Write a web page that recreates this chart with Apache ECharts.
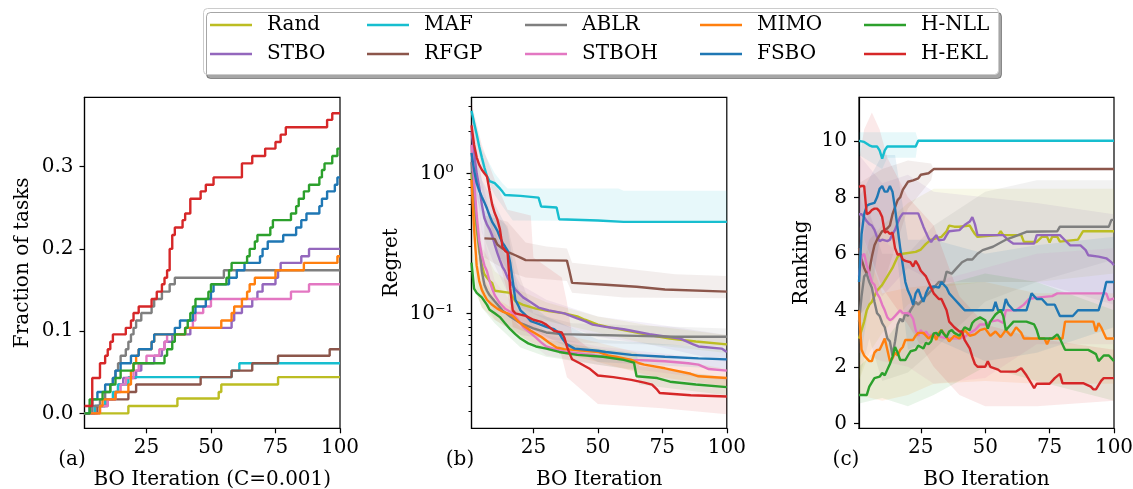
<!DOCTYPE html>
<html><head><meta charset="utf-8">
<script src="https://cdn.jsdelivr.net/npm/echarts@6/dist/echarts.min.js"></script>
<style>html,body{margin:0;padding:0;background:#fff}#c{width:1133px;height:489px}</style>
</head><body><div id="c"></div><script>
// ---------------- labels / ticks ----------------
const methods = ['Rand','STBO','MAF','RFGP','ABLR','STBOH','MIMO','FSBO','H-NLL','H-EKL'];
const colors  = ['#bcbd22','#9467bd','#17becf','#8c564b','#7f7f7f','#e377c2','#ff7f0e','#1f77b4','#2ca02c','#d62728'];
const xTicks = [25,50,75,100];
const fracTicks = [0,0.1,0.2,0.3];
const regretMajor = [0.1,1];
const regretMinor = [0.02,0.03,0.04,0.05,0.06,0.07,0.08,0.09,0.2,0.3,0.4,0.5,0.6,0.7,0.8,0.9,2,3];
const rankTicks = [0,2,4,6,8,10];

// ---------------- (a) fraction of tasks (step change points) ----------------
const a_Rand  = [[1,0],[18,0.009],[37,0.018],[53,0.026],[54,0.035],[76,0.044],[100,0.044]];
const a_STBO  = [[1,0],[5,0.009],[9,0.017],[13,0.026],[14,0.035],[16,0.043],[21,0.052],[23,0.061],[28,0.07],[31,0.078],[32,0.087],[35,0.096],[42,0.104],[58,0.113],[59,0.122],[62,0.13],[66,0.139],[68,0.148],[70,0.157],[75,0.165],[76,0.174],[77,0.183],[85,0.191],[88,0.2],[100,0.2]];
const a_MAF   = [[1,0],[5,0.009],[9,0.017],[12,0.026],[14,0.035],[18,0.044],[58,0.052],[61,0.061],[100,0.061]];
const a_RFGP  = [[1,0],[6,0.009],[10,0.017],[18,0.026],[21,0.035],[46,0.044],[58,0.052],[66,0.061],[76,0.07],[96,0.078],[100,0.078]];
const a_ABLR  = [[1,0],[4,0.009],[7,0.017],[9,0.026],[11,0.035],[12,0.043],[13,0.052],[14,0.061],[15,0.07],[17,0.078],[18,0.087],[19,0.096],[20,0.104],[21,0.113],[23,0.122],[27,0.13],[28,0.139],[31,0.148],[34,0.157],[36,0.165],[55,0.174],[100,0.174]];
const a_STBOH = [[1,0],[7,0.009],[10,0.017],[13,0.026],[15,0.035],[17,0.043],[20,0.052],[22,0.061],[25,0.07],[30,0.078],[32,0.087],[33,0.096],[40,0.104],[43,0.113],[44,0.122],[47,0.13],[50,0.139],[81,0.148],[88,0.157],[100,0.157]];
const a_MIMO  = [[1,0],[7,0.009],[8,0.017],[13,0.026],[18,0.035],[19,0.052],[20,0.061],[21,0.07],[22,0.078],[27,0.087],[28,0.096],[40,0.104],[54,0.113],[58,0.122],[59,0.13],[62,0.139],[64,0.148],[65,0.157],[67,0.165],[75,0.174],[86,0.183],[99,0.191],[100,0.191]];
const a_FSBO  = [[1,0],[3,0.009],[4,0.017],[6,0.026],[9,0.035],[12,0.043],[13,0.052],[15,0.061],[19,0.07],[22,0.078],[27,0.087],[28,0.096],[36,0.104],[38,0.113],[43,0.122],[44,0.13],[48,0.139],[50,0.148],[51,0.157],[57,0.165],[60,0.174],[63,0.183],[69,0.191],[70,0.2],[72,0.209],[78,0.217],[83,0.226],[85,0.235],[87,0.243],[92,0.252],[93,0.261],[95,0.27],[98,0.278],[99,0.287],[100,0.287]];
const a_HNLL  = [[1,0],[3,0.017],[8,0.026],[11,0.035],[13,0.043],[15,0.052],[20,0.061],[32,0.07],[33,0.078],[35,0.087],[36,0.096],[40,0.104],[41,0.113],[42,0.122],[43,0.13],[44,0.139],[49,0.148],[50,0.157],[56,0.165],[57,0.174],[58,0.183],[64,0.191],[65,0.2],[67,0.209],[68,0.217],[73,0.226],[74,0.235],[81,0.243],[83,0.252],[84,0.261],[86,0.27],[88,0.278],[92,0.287],[93,0.296],[94,0.304],[97,0.313],[99,0.322],[100,0.322]];
const a_HEKL  = [[1,0.009],[4,0.043],[7,0.061],[9,0.07],[10,0.078],[11,0.087],[12,0.096],[17,0.104],[19,0.113],[20,0.122],[22,0.13],[27,0.139],[29,0.148],[31,0.157],[32,0.165],[33,0.174],[34,0.2],[35,0.217],[36,0.226],[39,0.235],[40,0.243],[42,0.261],[46,0.27],[48,0.278],[51,0.287],[62,0.304],[66,0.313],[71,0.322],[75,0.33],[77,0.339],[79,0.348],[95,0.357],[97,0.365],[100,0.365]];

// ---------------- (b) regret ----------------
const b_Rand  = [[1,1.0],[2,0.6],[3,0.4],[4,0.28],[5,0.22],[6,0.19],[8,0.17],[9,0.165],[10,0.145],[16,0.14],[18,0.122],[21,0.115],[26,0.108],[31,0.104],[37,0.1],[42,0.095],[45,0.09],[50,0.083],[55,0.079],[60,0.076],[65,0.073],[70,0.07],[78,0.066],[88,0.063],[100,0.06]];
const b_STBO  = [[1,2.0],[2,1.4],[3,1.0],[4,0.8],[5,0.6],[6,0.48],[7,0.43],[8,0.4],[9,0.36],[10,0.31],[11,0.27],[12,0.24],[13,0.215],[14,0.2],[15,0.18],[16,0.168],[18,0.148],[21,0.13],[24,0.12],[27,0.11],[31,0.105],[37,0.1],[42,0.092],[45,0.088],[48,0.083],[53,0.08],[60,0.077],[70,0.071],[82,0.066],[87,0.06],[89,0.058],[98,0.056],[100,0.053]];
const b_MAF   = [[1,2.8],[2,2.3],[3,1.9],[4,1.55],[5,1.3],[6,1.1],[7,0.95],[8,0.88],[10,0.85],[12,0.78],[13,0.74],[14,0.7],[20,0.69],[27,0.67],[28,0.58],[34,0.57],[35,0.47],[50,0.46],[60,0.45],[100,0.45]];
const b_RFGP  = [[6,0.343],[10,0.34],[11,0.31],[13,0.29],[15,0.275],[18,0.26],[20,0.25],[22,0.24],[38,0.238],[39,0.2],[40,0.165],[53,0.16],[65,0.155],[76,0.148],[100,0.143]];
const b_ABLR  = [[1,1.2],[2,0.75],[3,0.45],[4,0.3],[5,0.2],[6,0.16],[7,0.145],[8,0.135],[10,0.122],[13,0.105],[16,0.095],[20,0.085],[25,0.078],[30,0.073],[36,0.071],[50,0.07],[65,0.069],[80,0.068],[100,0.068]];
const b_STBOH = [[1,1.6],[2,0.9],[3,0.5],[4,0.33],[5,0.26],[6,0.22],[7,0.2],[8,0.17],[9,0.15],[10,0.135],[12,0.118],[14,0.108],[17,0.1],[19,0.09],[21,0.08],[24,0.072],[26,0.067],[28,0.062],[30,0.058],[34,0.055],[38,0.053],[45,0.051],[53,0.049],[63,0.0465],[70,0.046],[76,0.0455],[85,0.044],[89,0.043],[93,0.04],[100,0.039]];
const b_MIMO  = [[1,0.9],[2,0.4],[3,0.22],[4,0.17],[5,0.147],[6,0.135],[7,0.125],[9,0.115],[11,0.108],[13,0.103],[15,0.1],[17,0.096],[19,0.088],[21,0.082],[24,0.075],[28,0.068],[31,0.062],[34,0.057],[37,0.0555],[45,0.054],[50,0.053],[54,0.05],[57,0.049],[63,0.0465],[66,0.044],[68,0.043],[76,0.0405],[86,0.037],[89,0.0355],[100,0.0345]];
const b_FSBO  = [[1,1.4],[2,1.05],[3,0.85],[4,0.75],[5,0.68],[6,0.62],[7,0.56],[8,0.5],[9,0.45],[10,0.42],[11,0.39],[12,0.35],[13,0.32],[14,0.3],[15,0.28],[16,0.23],[17,0.17],[18,0.125],[19,0.115],[20,0.105],[22,0.097],[24,0.088],[27,0.084],[30,0.08],[33,0.077],[35,0.072],[36,0.067],[38,0.06],[41,0.056],[50,0.054],[53,0.053],[63,0.0505],[76,0.049],[89,0.0477],[100,0.0469]];
const b_HNLL  = [[1,0.23],[2,0.15],[3,0.14],[5,0.13],[7,0.115],[8,0.106],[10,0.1],[12,0.094],[14,0.085],[16,0.077],[18,0.071],[20,0.066],[23,0.061],[26,0.058],[30,0.056],[35,0.053],[42,0.0505],[52,0.049],[60,0.0465],[64,0.0445],[65,0.0355],[73,0.0345],[78,0.0325],[88,0.031],[100,0.0297]];
const b_HEKL  = [[1,2.2],[2,1.6],[3,1.3],[4,1.15],[5,1.06],[6,1.0],[7,0.95],[8,0.75],[9,0.6],[10,0.52],[11,0.47],[12,0.4],[13,0.3],[14,0.28],[15,0.27],[16,0.15],[17,0.105],[18,0.1],[22,0.096],[25,0.09],[28,0.087],[30,0.083],[33,0.075],[36,0.073],[37,0.067],[38,0.058],[39,0.052],[40,0.047],[43,0.044],[47,0.04],[50,0.036],[56,0.035],[63,0.0335],[68,0.032],[71,0.031],[73,0.0285],[74,0.027],[86,0.026],[100,0.0255]];

// (b) shaded bands: upper / lower edges
const bHi_Rand  = [[1,1.6],[5,0.3],[10,0.2],[20,0.145],[30,0.12],[50,0.095],[70,0.082],[100,0.07]];
const bLo_Rand  = [[1,0.6],[5,0.16],[10,0.11],[20,0.095],[30,0.088],[50,0.073],[70,0.06],[100,0.052]];
const bHi_STBO  = [[1,2.8],[5,0.9],[10,0.38],[15,0.24],[20,0.16],[30,0.125],[50,0.095],[70,0.085],[100,0.07]];
const bLo_STBO  = [[1,1.4],[5,0.38],[10,0.22],[15,0.14],[20,0.11],[30,0.09],[50,0.068],[70,0.06],[100,0.045]];
const bHi_MAF   = [[1,3.0],[5,1.5],[10,1.0],[13,0.85],[15,0.78],[58,0.78],[60,0.75],[100,0.75]];
const bLo_MAF   = [[1,2.4],[5,1.1],[10,0.7],[14,0.55],[17,0.46],[100,0.45]];
const bHi_RFGP  = [[6,0.5],[15,0.45],[22,0.32],[30,0.3],[38,0.29],[40,0.23],[60,0.21],[80,0.19],[100,0.185]];
const bLo_RFGP  = [[6,0.25],[15,0.2],[22,0.18],[38,0.17],[40,0.14],[60,0.13],[100,0.128]];
const bHi_ABLR  = [[1,2.5],[3,0.8],[5,0.55],[10,0.5],[15,0.42],[19,0.2],[25,0.1],[40,0.085],[100,0.078]];
const bLo_ABLR  = [[1,0.9],[3,0.25],[5,0.13],[10,0.09],[20,0.07],[40,0.062],[100,0.058]];
const bHi_STBOH = [[1,2.4],[5,0.4],[10,0.17],[20,0.1],[30,0.07],[50,0.058],[100,0.046]];
const bLo_STBOH = [[1,1.0],[5,0.17],[10,0.1],[20,0.07],[30,0.05],[50,0.043],[100,0.033]];
const bHi_MIMO  = [[1,1.4],[3,0.35],[5,0.19],[10,0.13],[20,0.1],[30,0.075],[50,0.062],[70,0.05],[100,0.04]];
const bLo_MIMO  = [[1,0.55],[3,0.14],[5,0.11],[10,0.09],[20,0.068],[30,0.055],[50,0.045],[70,0.036],[100,0.03]];
const bHi_FSBO  = [[1,2.0],[5,0.9],[10,0.6],[15,0.4],[18,0.18],[20,0.13],[30,0.095],[50,0.065],[100,0.056]];
const bLo_FSBO  = [[1,0.9],[5,0.5],[10,0.3],[15,0.2],[18,0.09],[20,0.085],[30,0.068],[50,0.045],[100,0.04]];
const bHi_HNLL  = [[1,0.3],[5,0.16],[10,0.12],[20,0.08],[30,0.065],[50,0.056],[65,0.052],[66,0.042],[100,0.035]];
const bLo_HNLL  = [[1,0.17],[5,0.11],[10,0.085],[20,0.057],[30,0.049],[50,0.043],[65,0.039],[66,0.031],[100,0.026]];
const bHi_HEKL  = [[1,3.2],[5,1.6],[10,0.9],[15,0.55],[24,0.5],[25,0.25],[36,0.18],[38,0.12],[40,0.07],[50,0.05],[75,0.04],[100,0.034]];
const bLo_HEKL  = [[1,1.5],[5,0.75],[10,0.32],[15,0.14],[17,0.08],[25,0.07],[35,0.058],[38,0.035],[50,0.0225],[75,0.021],[100,0.019]];

// ---------------- (c) ranking ----------------
const c_Rand  = [[1,3.0],[2,3.3],[3,3.6],[4,4.0],[5,4.2],[6,4.3],[7,4.5],[8,4.7],[9,4.8],[10,4.9],[12,5.2],[14,5.5],[15,5.7],[16,5.9],[18,6.0],[23,6.07],[25,6.15],[27,6.35],[29,6.5],[31,6.55],[33,6.6],[35,6.8],[36,7.0],[38,6.96],[40,6.96],[44,7.0],[45,6.84],[46,6.7],[47,6.6],[55,6.66],[56,6.8],[57,6.66],[64,6.66],[65,6.42],[70,6.42],[72,6.6],[74,6.6],[75,6.4],[76,6.6],[78,6.6],[79,6.43],[86,6.5],[88,6.8],[100,6.8]];
const c_STBO  = [[1,7.4],[2,7.4],[3,7.3],[4,7.15],[5,7.05],[6,7.0],[7,6.85],[8,6.6],[9,6.45],[10,6.5],[12,6.45],[13,6.5],[14,6.7],[15,6.85],[16,7.1],[17,7.3],[18,7.43],[24,7.43],[25,7.2],[26,6.96],[27,6.75],[28,6.55],[29,6.42],[30,6.55],[31,6.66],[32,6.48],[34,6.5],[35,6.66],[36,6.8],[40,6.84],[42,7.02],[44,7.14],[45,7.3],[46,7.05],[47,6.66],[57,6.66],[59,6.48],[61,6.36],[69,6.36],[70,6.66],[79,6.66],[81,6.48],[83,6.3],[87,6.3],[89,6.13],[90,5.95],[94,5.9],[97,5.84],[99,5.7],[100,5.6]];
const c_MAF   = [[1,10],[3,9.96],[5,9.84],[6,9.8],[8,9.8],[9,9.66],[10,9.37],[11,9.66],[12,9.8],[23,9.8],[24,10],[100,10]];
const c_RFGP  = [[1,6.2],[2,5.8],[3,5.5],[4,5.3],[5,5.4],[6,5.9],[7,6.3],[8,6.5],[10,6.8],[12,6.9],[13,7.0],[14,7.4],[16,7.9],[17,8.0],[18,8.26],[20,8.55],[22,8.6],[24,8.67],[25,8.8],[28,8.85],[30,9.0],[100,9.0]];
const c_ABLR  = [[1,3.6],[2,4.5],[3,5.2],[4,5.3],[5,5.0],[6,4.8],[7,4.3],[8,3.9],[9,3.8],[10,3.55],[11,3.4],[12,3.0],[13,2.9],[14,2.4],[15,2.9],[16,3.5],[17,3.7],[18,3.6],[19,3.9],[20,3.8],[21,4.0],[23,4.3],[24,4.2],[26,4.4],[28,4.6],[30,4.8],[32,5.0],[34,5.0],[35,5.37],[37,5.3],[39,5.5],[41,5.7],[43,5.8],[45,5.8],[47,6.0],[49,6.13],[53,6.25],[56,6.4],[58,6.5],[61,6.6],[66,6.78],[78,6.8],[79,6.96],[98,6.96],[99,7.2],[100,7.2]];
const c_STBOH = [[1,5.2],[2,5.9],[3,6.0],[4,5.6],[5,5.3],[6,5.0],[7,4.9],[8,4.6],[9,4.45],[10,4.2],[11,4.0],[12,3.75],[13,3.65],[14,3.7],[15,3.8],[16,3.9],[17,4.0],[18,3.9],[20,3.9],[21,3.85],[22,3.7],[23,3.3],[24,3.1],[25,3.3],[26,3.15],[27,3.25],[28,3.1],[30,3.15],[33,3.05],[36,3.0],[40,3.0],[42,3.05],[44,3.2],[46,3.3],[48,3.5],[50,3.5],[52,3.6],[55,3.65],[57,3.55],[58,4.0],[62,4.0],[65,4.2],[67,4.4],[70,4.45],[76,4.5],[78,4.6],[97,4.6],[98,4.36],[100,4.42]];
const c_MIMO  = [[1,4.0],[2,2.6],[3,2.4],[4,2.3],[5,2.2],[6,2.2],[7,2.5],[8,2.6],[9,2.6],[10,2.8],[11,3.0],[12,2.6],[13,2.2],[14,2.3],[15,2.5],[16,2.4],[17,2.6],[18,2.7],[19,2.95],[22,2.95],[23,3.1],[24,3.2],[26,3.2],[28,3.0],[30,3.15],[31,2.95],[32,3.2],[33,3.3],[35,3.05],[36,2.9],[38,3.1],[40,3.0],[42,3.3],[44,3.1],[46,3.15],[48,3.3],[50,3.35],[52,3.1],[54,3.25],[56,3.05],[58,3.3],[60,3.1],[62,3.4],[64,3.2],[65,3.0],[73,3.0],[74,2.8],[75,3.0],[80,3.0],[81,3.6],[92,3.6],[93,3.25],[94,3.55],[95,3.4],[97,3.0],[100,3.0]];
const c_FSBO  = [[1,5.0],[2,6.7],[3,7.4],[4,7.7],[5,7.75],[7,7.8],[8,8.0],[9,8.3],[10,8.4],[11,8.2],[12,8.2],[13,8.4],[14,8.2],[15,7.6],[16,6.9],[17,6.2],[18,5.6],[19,5.0],[20,4.7],[21,4.5],[22,4.2],[23,4.6],[24,4.75],[25,4.5],[26,4.3],[27,4.6],[28,4.8],[30,4.85],[32,4.8],[33,5.0],[35,4.8],[36,4.6],[38,4.4],[40,4.2],[42,4.0],[53,4.0],[54,4.3],[55,4.0],[57,4.0],[58,4.4],[59,4.2],[61,4.0],[66,4.0],[68,4.6],[70,4.4],[72,4.4],[74,4.2],[77,4.2],[79,3.8],[84,3.8],[86,4.0],[94,4.0],[96,4.6],[97,5.0],[100,5.0]];
const c_HNLL  = [[1,1.0],[4,1.0],[5,1.3],[6,1.45],[7,1.6],[9,1.65],[10,1.78],[11,1.7],[12,1.9],[13,2.1],[14,2.35],[15,2.7],[16,2.5],[17,2.24],[19,2.24],[20,2.4],[21,2.55],[23,2.6],[24,2.75],[25,2.7],[26,2.65],[27,2.85],[28,2.8],[29,2.9],[30,3.18],[31,3.2],[32,3.1],[33,3.3],[34,3.15],[35,3.05],[36,3.25],[37,3.3],[38,3.2],[40,3.1],[42,3.4],[44,3.3],[45,3.55],[46,3.65],[48,3.75],[50,3.65],[51,3.35],[52,3.6],[54,3.85],[56,4.0],[57,3.8],[58,3.3],[59,3.4],[61,3.6],[66,3.6],[69,3.5],[70,3.3],[71,3.0],[76,3.0],[78,3.15],[79,3.0],[80,2.8],[81,2.6],[90,2.6],[92,2.5],[93,2.45],[94,2.2],[96,2.4],[98,2.4],[100,2.2]];
const c_HEKL  = [[1,8.37],[2,8.4],[3,8.4],[4,7.4],[5,7.45],[6,7.55],[7,7.6],[8,7.6],[9,7.5],[10,7.3],[11,6.75],[12,6.8],[13,6.7],[14,6.75],[15,6.2],[16,5.96],[17,6.0],[18,5.8],[19,5.75],[21,5.7],[22,5.55],[23,5.75],[24,5.6],[25,5.4],[27,5.2],[28,5.0],[29,4.8],[30,4.6],[32,4.4],[33,4.4],[35,4.0],[36,3.6],[38,3.4],[40,3.25],[41,3.25],[42,2.95],[44,2.65],[45,2.35],[46,2.1],[47,2.0],[50,2.0],[51,2.2],[52,2.0],[55,1.9],[56,1.83],[62,1.83],[64,1.95],[66,1.7],[68,1.4],[69,1.24],[70,1.4],[75,1.4],[77,1.6],[79,1.75],[80,1.42],[88,1.42],[91,1.3],[92,1.2],[93,1.2],[94,1.35],[95,1.5],[96,1.6],[100,1.6]];

// (c) shaded bands: upper / lower edges
const cHi_Rand  = [[1,5],[5,6.5],[10,7],[20,7.8],[30,8.3],[50,8.3],[70,8.3],[100,8.3]];
const cLo_Rand  = [[1,1.5],[5,2.5],[10,3.2],[20,4.2],[30,4.8],[50,5],[70,5.0],[100,5.3]];
const cHi_STBO  = [[1,9.5],[10,8.5],[20,8.8],[30,8.2],[50,8],[70,7.8],[100,7.4]];
const cLo_STBO  = [[1,5.5],[10,4.5],[20,5.5],[30,5],[50,5],[70,5],[100,4.2]];
const cHi_MAF   = [[1,10.3],[23,10.3],[24,10],[100,10]];
const cLo_MAF   = [[1,9.5],[10,9.0],[12,9.4],[23,9.4],[24,10],[100,10]];
const cHi_RFGP  = [[1,8.5],[10,9.0],[20,9.3],[29,9.2],[30,9],[100,9]];
const cLo_RFGP  = [[1,3.8],[10,4.8],[20,7.6],[29,8.6],[30,9],[100,9]];
const cHi_ABLR  = [[1,6],[5,7.5],[10,6],[20,6],[30,7],[50,8.2],[70,8.6],[100,8.6]];
const cLo_ABLR  = [[1,1.5],[5,3],[10,1.5],[20,1.8],[30,2.6],[50,4.3],[70,5],[100,5.8]];
const cHi_STBOH = [[1,8],[10,6.5],[20,5.8],[30,5.0],[50,5.5],[70,6],[100,6.2]];
const cLo_STBOH = [[1,2.5],[10,2.2],[20,2.0],[30,1.4],[50,1.6],[70,2.8],[100,2.8]];
const cHi_MIMO  = [[1,7],[10,4.6],[20,4.8],[30,4.9],[50,5.0],[70,4.6],[100,4.6]];
const cLo_MIMO  = [[1,1],[10,0.8],[20,1.0],[30,1.4],[50,1.5],[70,1.4],[100,1.4]];
const cHi_FSBO  = [[1,8],[10,9.5],[15,9.5],[20,6.5],[30,6.5],[50,6],[70,6.3],[100,6.6]];
const cLo_FSBO  = [[1,2],[10,7],[15,6.5],[20,2.6],[30,3],[50,2.2],[70,2.5],[100,3.4]];
const cHi_HNLL  = [[1,2],[10,2.8],[20,4],[30,4.8],[50,5.3],[70,5],[100,4.0]];
const cLo_HNLL  = [[1,0.7],[10,0.9],[20,0.6],[30,1],[50,2],[70,1.5],[100,0.8]];
const cHi_HEKL  = [[1,9.3],[3,10.4],[6,11],[9,10.4],[12,9.4],[20,8],[30,7],[40,4.5],[50,3.5],[70,3],[100,2.6]];
const cLo_HEKL  = [[1,7.2],[3,6.5],[6,5.8],[10,4.8],[20,3.5],[30,2],[40,1],[50,0.6],[70,0.6],[100,0.8]];

// ---------------- assembly ----------------
const A = [a_Rand,a_STBO,a_MAF,a_RFGP,a_ABLR,a_STBOH,a_MIMO,a_FSBO,a_HNLL,a_HEKL];
const B = [b_Rand,b_STBO,b_MAF,b_RFGP,b_ABLR,b_STBOH,b_MIMO,b_FSBO,b_HNLL,b_HEKL];
const C = [c_Rand,c_STBO,c_MAF,c_RFGP,c_ABLR,c_STBOH,c_MIMO,c_FSBO,c_HNLL,c_HEKL];
const BH = [bHi_Rand,bHi_STBO,bHi_MAF,bHi_RFGP,bHi_ABLR,bHi_STBOH,bHi_MIMO,bHi_FSBO,bHi_HNLL,bHi_HEKL];
const BL = [bLo_Rand,bLo_STBO,bLo_MAF,bLo_RFGP,bLo_ABLR,bLo_STBOH,bLo_MIMO,bLo_FSBO,bLo_HNLL,bLo_HEKL];
const CH = [cHi_Rand,cHi_STBO,cHi_MAF,cHi_RFGP,cHi_ABLR,cHi_STBOH,cHi_MIMO,cHi_FSBO,cHi_HNLL,cHi_HEKL];
const CL = [cLo_Rand,cLo_STBO,cLo_MAF,cLo_RFGP,cLo_ABLR,cLo_STBOH,cLo_MIMO,cLo_FSBO,cLo_HNLL,cLo_HEKL];

const FONT = 'DejaVu Serif';
const txt = {fontFamily: FONT, fontSize: 20, color: '#000'};
const BLACK = {color: '#000', width: 1.2};

function rgba(hex, a) {
  const n = parseInt(hex.slice(1), 16);
  return 'rgba(' + (n >> 16) + ',' + ((n >> 8) & 255) + ',' + (n & 255) + ',' + a + ')';
}
function band(xi, yi, hi, lo, color, a) {
  return {
    type: 'custom', xAxisIndex: xi, yAxisIndex: yi, silent: true, clip: true, z: 1,
    data: [[hi[0][0], hi[0][1]]],
    renderItem: function (params, api) {
      const pts = hi.map(p => api.coord(p)).concat(lo.slice().reverse().map(p => api.coord(p)));
      return {type: 'polygon', shape: {points: pts}, style: {fill: rgba(color, a)}};
    }
  };
}
function line(xi, yi, name, data, color, step) {
  return {
    type: 'line', name: name, xAxisIndex: xi, yAxisIndex: yi, data: data,
    step: step ? 'end' : false, symbol: 'none', showSymbol: false, z: 2,
    lineStyle: {color: color, width: 2.4}, itemStyle: {color: color},
    emphasis: {disabled: true}
  };
}

const series = [];
methods.forEach((m, i) => series.push(band(1, 1, BH[i], BL[i], colors[i], 0.1)));
methods.forEach((m, i) => series.push(band(2, 3, CH[i], CL[i], colors[i], 0.1)));
methods.forEach((m, i) => series.push(line(0, 0, m, A[i], colors[i], true)));
methods.forEach((m, i) => series.push(line(1, 1, m, B[i], colors[i], false)));
methods.forEach((m, i) => series.push(line(2, 3, m, C[i], colors[i], false)));

const grids = [
  {left: 84.5, top: 97.3, width: 255.5, height: 331},
  {left: 471.5, top: 97.3, width: 255.3, height: 331},
  {left: 859, top: 97.3, width: 255, height: 331}
].map(g => Object.assign(g, {show: true, borderColor: '#000', borderWidth: 1.2, backgroundColor: 'transparent', containLabel: false, outerBoundsMode: 'none'}));

const xNames = ['BO Iteration (C=0.001)', 'BO Iteration', 'BO Iteration'];
const xAxes = [0, 1, 2].map(i => ({
  type: 'value', gridIndex: i, min: 1, max: 100,
  axisLine: {show: true, onZero: false, lineStyle: BLACK},
  axisTick: {show: true, inside: false, length: 5, lineStyle: BLACK, customValues: xTicks},
  axisLabel: Object.assign({show: true, margin: 9, customValues: xTicks}, txt),
  splitLine: {show: false}, minorTick: {show: false},
  name: xNames[i], nameLocation: 'middle', nameGap: 41, nameTextStyle: txt
}));

const sup = {'-': '\u207b', '0': '\u2070', '1': '\u00b9', '2': '\u00b2', '3': '\u00b3'};
function powLabel(v) {
  const e = String(Math.round(Math.log10(v)));
  return '10' + e.split('').map(ch => sup[ch]).join('');
}

const yAxes = [
  {
    type: 'value', gridIndex: 0, min: -0.0182, max: 0.3844,
    axisLine: {show: true, onZero: false, lineStyle: BLACK},
    axisTick: {show: true, inside: false, length: 5, lineStyle: BLACK, customValues: fracTicks},
    axisLabel: Object.assign({show: true, margin: 11, customValues: fracTicks, formatter: v => Number(v).toFixed(1)}, txt),
    splitLine: {show: false},
    name: 'Fraction of tasks', nameLocation: 'middle', nameGap: 52, nameTextStyle: txt
  },
  {
    type: 'log', logBase: 10, gridIndex: 1, min: 0.0151, max: 3.49, position: 'left',
    axisLine: {show: true, onZero: false, lineStyle: BLACK},
    axisTick: {show: true, inside: false, length: 5, lineStyle: BLACK, customValues: regretMajor},
    axisLabel: Object.assign({show: true, margin: 18, customValues: regretMajor, formatter: powLabel}, txt),
    splitLine: {show: false},
    name: 'Regret', nameLocation: 'middle', nameGap: 70, nameTextStyle: txt
  },
  {
    type: 'log', logBase: 10, gridIndex: 1, min: 0.0151, max: 3.49, position: 'left', offset: 0,
    axisLine: {show: false},
    axisTick: {show: true, inside: false, length: 3, lineStyle: {color: '#000', width: 1}, customValues: regretMinor},
    axisLabel: {show: false},
    splitLine: {show: false}
  },
  {
    type: 'value', gridIndex: 2, min: -0.177, max: 11.54,
    axisLine: {show: true, onZero: false, lineStyle: BLACK},
    axisTick: {show: true, inside: false, length: 5, lineStyle: BLACK, customValues: rankTicks},
    axisLabel: Object.assign({show: true, margin: 12, customValues: rankTicks}, txt),
    splitLine: {show: false},
    name: 'Ranking', nameLocation: 'middle', nameGap: 47, nameTextStyle: txt
  }
];

const legendCols = [['Rand','STBO'],['MAF','RFGP'],['ABLR','STBOH'],['MIMO','FSBO'],['H-NLL','H-EKL']];
const legendLeft = [210, 367, 525, 700, 864];
const legends = legendCols.map((col, i) => ({
  show: true, orient: 'vertical', left: legendLeft[i], top: 15, data: col,
  icon: 'rect', itemWidth: 42, itemHeight: 2.6, itemGap: 9, padding: 0, selectedMode: false,
  textStyle: {fontFamily: FONT, fontSize: 20, color: '#000', lineHeight: 20, padding: [0, 0, 0, 10]}
}));

const option = {
  animation: false,
  backgroundColor: '#fff',
  textStyle: {fontFamily: FONT},
  grid: grids,
  xAxis: xAxes,
  yAxis: yAxes,
  legend: legends,
  graphic: [
    {type: 'rect', z: 0, shape: {x: 203.5, y: 8.5, width: 795, height: 66, r: 4},
     style: {fill: '#fff', stroke: '#cccccc', lineWidth: 1, shadowBlur: 0, shadowOffsetX: 3, shadowOffsetY: 4, shadowColor: 'rgba(0,0,0,0.35)'}},
    {type: 'text', x: 72, y: 460, style: {text: '(a)', font: '20px "DejaVu Serif"', fill: '#000', align: 'center', verticalAlign: 'middle'}},
    {type: 'text', x: 460, y: 460, style: {text: '(b)', font: '20px "DejaVu Serif"', fill: '#000', align: 'center', verticalAlign: 'middle'}},
    {type: 'text', x: 846, y: 460, style: {text: '(c)', font: '20px "DejaVu Serif"', fill: '#000', align: 'center', verticalAlign: 'middle'}}
  ],
  series: series
};

const chart = echarts.init(document.getElementById('c'), null, {renderer: 'canvas'});
chart.setOption(option);
</script></body></html>
